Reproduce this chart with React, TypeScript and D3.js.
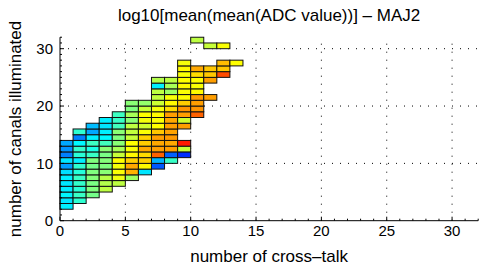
import React from 'react'
import * as d3 from 'd3'

// cells: one column per cross-talk count, values start at firstRow and go up
const columns = [0, 1, 2, 3, 4, 5, 6, 7, 8, 9, 10, 11, 12, 13]
const firstRow = [2, 3, 4, 5, 6, 7, 8, 9, 10, 11, 18, 21, 25, 27]
const col0 = [1.52, 1.5, 1.53, 1.51, 1.5, 1.52, 1.49, 1.36, 1.5, 1.3, 1.34, 1.38]
const col1 = [1.64, 1.66, 1.63, 1.65, 1.66, 1.62, 1.64, 1.52, 1.63, 1.65, 1.54, 1.3, 1.64]
const col2 = [1.78, 1.8, 1.79, 1.81, 1.8, 1.78, 1.8, 1.66, 1.6, 1.67, 1.52, 1.38, 1.42]
const col3 = [1.92, 1.9, 1.91, 1.82, 1.8, 1.81, 1.79, 1.82, 1.68, 1.54, 1.52, 1.5, 1.52]
const col4 = [1.92, 2.02, 2.04, 2.03, 2.05, 1.94, 1.88, 1.82, 1.8, 1.82, 1.68, 1.66, 1.67]
const col5 = [1.86, 2.2, 2.22, 2.14, 2.06, 2.04, 2.05, 1.94, 1.93, 1.92, 1.82, 1.88, 1.8, 1.82]
const col6 = [1.5, 2.06, 2.14, 2.12, 2.22, 2.15, 2.14, 2.04, 1.96, 2.03, 2.05, 1.94, 1.84]
const col7 = [1.22, 1.4, 2.36, 2.24, 2.22, 2.24, 2.16, 2.05, 2.04, 2.06, 2.03, 1.95, 1.93, 1.92, 1.52, 1.9]
const col8 = [1.66, 1.24, 2.24, 2.22, 2.25, 2.23, 2.24, 2.22, 2.24, 2.12, 2.06, 2.04, 1.86, 1.88, 1.92]
const col9 = [1.14, 1.94, 2.5, null, null, 2.24, 1.96, 2.24, 2.26, 2.15, 2.05, 2.04, 2.06, 2.05, 2.04, 2.06, 2.03]
const col10 = [2.36, 2.26, 2.24, 2.25, 2.06, 2.04, 2.05, 2.12, 2.22, null, null, null, null, 1.92]
const col11 = [2.24, null, null, 2.24, 2.16, 2.16, null, null, null, 1.94]
const col12 = [2.4, 2.16, 2.18, null, null, 2.04]
const col13 = [2.05]
const columnValues = [col0, col1, col2, col3, col4, col5, col6, col7, col8, col9, col10, col11, col12, col13]

const xTicks = [0, 5, 10, 15, 20, 25, 30]
const yTicks = [0, 10, 20, 30]
const colorMin = 0.8
const colorMax = 2.8

const W = 479
const H = 266
const font = '"Liberation Sans", Arial, Helvetica, sans-serif'

export default function App() {
  const x = d3.scaleLinear().domain([0, 32]).range([60, 478.2])
  const y = d3.scaleLinear().domain([0, 30]).range([220.7, 48.7])

  // jet colormap
  const jetStops = [0, 0.125, 0.375, 0.625, 0.875, 1]
  const color = d3.scaleLinear<string>()
    .domain(jetStops.map(s => colorMin + s * (colorMax - colorMin)))
    .range(['#00008f', '#0000ff', '#00ffff', '#ffff00', '#ff0000', '#800000'])
    .clamp(true)

  let cells: { c: number, r: number, v: number }[] = []
  columns.forEach((c, i) => {
    columnValues[i].forEach((v, k) => {
      if (v != null) cells.push({ c: c, r: firstRow[i] + k, v: v })
    })
  })

  const minorX = d3.range(0, 33).filter(d => d % 5 != 0)
  const minorY = d3.range(0, 33).filter(d => d % 10 != 0)
  const y0 = y(0)
  const yTop = y(32)

  return (
    <svg width={W} height={H} style={{ position: 'absolute', left: 0, top: 0, background: '#fff' }}>
      {/* grid */}
      <g stroke="#000" strokeWidth={1} strokeDasharray="1,7">
        {xTicks.filter(d => d > 0).map(d => (
          <line key={'gx' + d} x1={x(d)} x2={x(d)} y1={y0} y2={yTop} />
        ))}
        {yTicks.filter(d => d > 0).map(d => (
          <line key={'gy' + d} x1={x(0)} x2={x(32)} y1={y(d)} y2={y(d)} />
        ))}
      </g>

      {/* cells */}
      <g stroke="#111" strokeWidth={1}>
        {cells.map((d, i) => (
          <rect key={i}
            x={x(d.c)} y={y(d.r + 1)}
            width={x(d.c + 1) - x(d.c)} height={y(d.r) - y(d.r + 1)}
            fill={color(d.v)} />
        ))}
      </g>

      {/* axes */}
      <g stroke="#000" strokeWidth={1} fill="none">
        <line x1={x(0)} x2={x(32)} y1={y0} y2={y0} />
        <line x1={x(0)} x2={x(0)} y1={y0} y2={yTop} />
        {xTicks.map(d => <line key={'tx' + d} x1={x(d)} x2={x(d)} y1={y0} y2={y0 - 4} />)}
        {yTicks.map(d => <line key={'ty' + d} x1={x(0)} x2={x(0) + 4} y1={y(d)} y2={y(d)} />)}
        {minorX.map(d => <line key={'mx' + d} x1={x(d)} x2={x(d)} y1={y0} y2={y0 - 2} />)}
        {minorY.map(d => <line key={'my' + d} x1={x(0)} x2={x(0) + 2} y1={y(d)} y2={y(d)} />)}
      </g>

      <g fontFamily={font} fontSize={15} fill="#000">
        {xTicks.map(d => (
          <text key={'lx' + d} x={x(d)} y={236} textAnchor="middle">{d}</text>
        ))}
        {yTicks.map(d => (
          <text key={'ly' + d} x={53} y={y(d)} dy="0.35em" textAnchor="end">{d}</text>
        ))}
      </g>

      <text x={(x(0) + x(32)) / 2} y={21} textAnchor="middle" fontFamily={font} fontSize={17}>
        log10[mean(mean(ADC value))] – MAJ2
      </text>
      <text x={(x(0) + x(32)) / 2} y={262} textAnchor="middle" fontFamily={font} fontSize={17}>
        number of cross–talk
      </text>
      <text transform={`translate(21,${(y0 + yTop) / 2}) rotate(-90)`} textAnchor="middle"
        fontFamily={font} fontSize={17}>
        number of canals illuminated
      </text>
    </svg>
  )
}
